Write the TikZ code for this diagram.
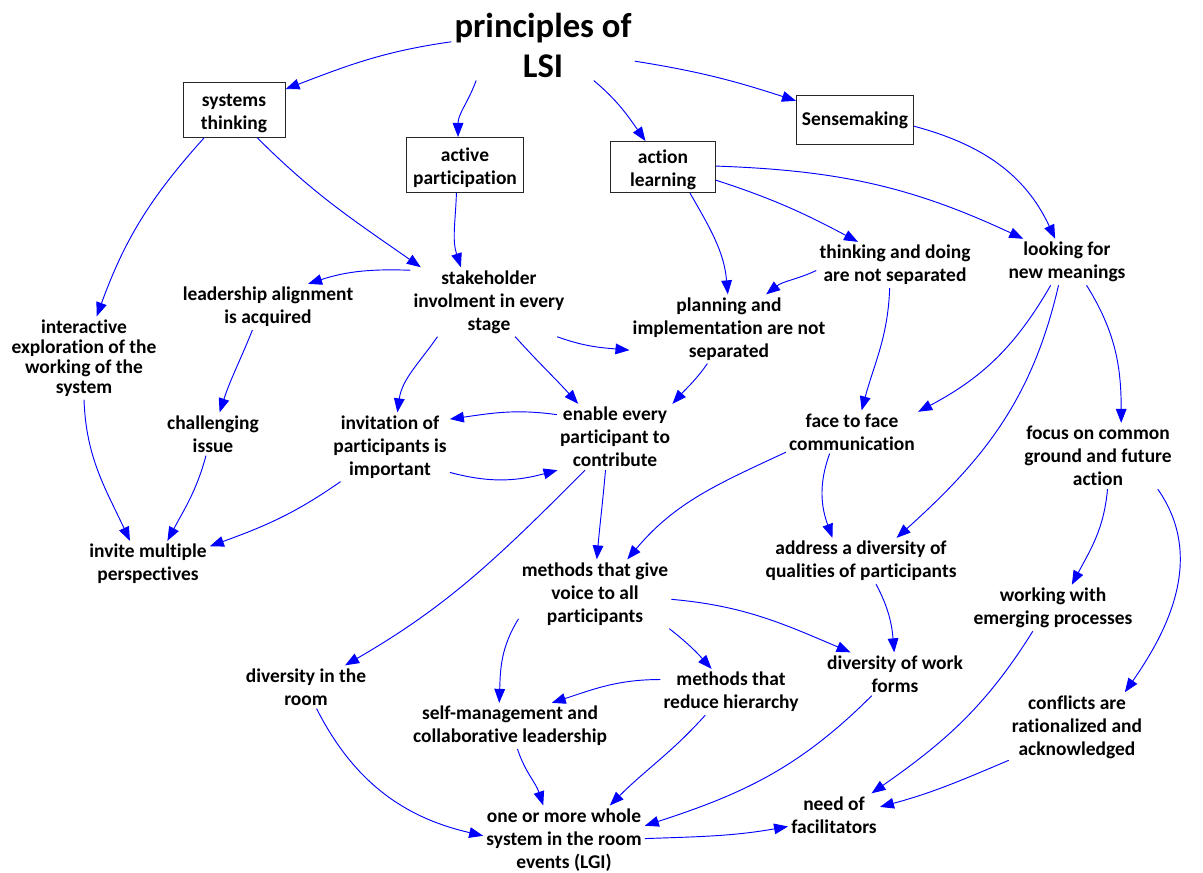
\documentclass[tikz,border=0pt]{standalone}
\usepackage{fontspec}
\setmainfont{Carlito}[Ligatures={NoCommon}, Contextuals={NoAlternate}]
\usetikzlibrary{arrows.meta}
\newcommand\lblfont{\fontsize{14.6}{17.25}\selectfont\bfseries}
\newcommand\lbltightfont{\fontsize{14.6}{15}\selectfont\bfseries}
\newcommand\titlefont{\fontsize{26}{30}\selectfont\bfseries}
\newcommand\boxstrut{\rule{0pt}{15pt}}
\begin{document}
\begin{tikzpicture}[x=0.75pt,y=0.75pt]
\tikzset{
  lbl/.style={align=center, font=\lblfont, inner sep=2.25pt},
  tightlbl/.style={align=center, font=\lbltightfont, inner sep=2.25pt},
  boxnode/.style={align=center, font=\lblfont, draw=black!85, line width=0.75pt, inner sep=0pt},
  arr/.style={draw=blue, line width=0.7pt, -{Triangle[length=10.5pt,width=8pt]}},
}
\path[use as bounding box] (0,0) rectangle (1203,-873);

% nodes
\node[align=center, font=\titlefont, inner sep=2.25pt] (title) at (543,-45) {principles of\\LSI};
\node[boxnode, minimum width=76.5pt, minimum height=41.25pt] (sys) at (234,-110) {\boxstrut systems\\thinking};
\node[boxnode, minimum width=87.75pt, minimum height=41.25pt] (act) at (465,-165) {\boxstrut active\\participation};
\node[boxnode, minimum width=78.75pt, minimum height=38.25pt] (actl) at (663,-167) {\boxstrut action\\learning};
\node[boxnode, minimum width=87.75pt, minimum height=36.75pt] (sense) at (855,-120) {Sensemaking};

\node[lbl] (stake) at (489,-302) {stakeholder\\involment in every\\stage};
\node[lbl] (lead) at (268,-307) {leadership alignment\\is acquired};
\node[tightlbl] (inter) at (84,-358) {interactive\\exploration of the\\working of the\\system};
\node[lbl] (chal) at (213,-434) {challenging\\issue};
\node[lbl] (invit) at (390,-447) {invitation of\\participants is\\important};
\node[lbl] (enable) at (615,-437) {enable every\\participant to\\contribute};
\node[lbl] (plan) at (729,-329) {planning and\\implementation are not\\separated};
\node[lbl] (think) at (895,-265) {thinking and doing\\are not separated};
\node[lbl] (look) at (1067,-262) {looking for\\new meanings};
\node[lbl] (face) at (852,-432) {face to face\\communication};
\node[lbl] (focus) at (1098,-456) {focus on common\\ground and future\\action};
\node[lbl] (invite) at (148,-564) {invite multiple\\perspectives};
\node[lbl] (meth) at (595,-594) {methods that give\\voice to all\\participants};
\node[lbl] (addr) at (861,-561) {address a diversity of\\qualities of participants};
\node[lbl] (work) at (1053,-608) {working with\\emerging processes};
\node[lbl] (divroom) at (306,-687) {diversity in the\\room};
\node[lbl] (divwork) at (895,-674) {diversity of work\\forms};
\node[lbl] (reduce) at (731,-692) {methods that\\reduce hierarchy};
\node[lbl] (self) at (510,-726) {self-management and\\collaborative leadership};
\node[lbl] (confl) at (1077,-727) {conflicts are\\rationalized and\\acknowledged};
\node[lbl] (one) at (564,-840) {one or more whole\\system in the room\\events (LGI)};
\node[lbl] (need) at (834,-815) {need of\\facilitators};

% connectors
\draw[arr] (title.178) to[out=188,in=21] (sys.22);
\draw[arr] (title.208) to[out=250,in=90] (act.104);
\draw[arr] (title.325) to[out=-40,in=125] (actl.124);
\draw[arr] (title.350) to[out=-9,in=162] (sense.162);
\draw[arr] (sys.223) to[out=228,in=70] (inter.73);
\draw[arr] (sys.310) to[out=-45,in=145] (stake.153);
\draw[arr] (act.253) to[out=268,in=108] (stake.129);
\draw[arr] (stake.158) to[out=178,in=18] (lead.30);
\draw[arr] (lead.236) to[out=248,in=72] (chal.73);
\draw[arr] (chal.252) to[out=255,in=62] (invite.50);
\draw[arr] (inter.270) to[out=272,in=115] (invite.128);
\draw[arr] (invit.215) to[out=215,in=20] (invite.16);
\draw[arr] (stake.214) to[out=235,in=82] (invit.78);
\draw[arr] (stake.307) to[out=-48,in=132] (enable.138);
\draw[arr] (enable.159) to[out=172,in=8] (invit.25);
\draw[arr] (invit.337) to[out=-15,in=195] (enable.210);
\draw[arr] (stake.333) to[out=-20,in=175] (plan.192);
\draw[arr] (actl.316) to[out=-60,in=95] (plan.92);
\draw[arr] (think.184) to[out=205,in=38] (plan.43);
\draw[arr] (actl.346) to[out=-18,in=152] (think.148);
\draw[arr] (actl.1) to[out=-2,in=155] (look.152);
\draw[arr] (sense.354) to[out=-15,in=115] (look.117);
\draw[arr] (plan.238) to[out=235,in=48] (enable.30);
\draw[arr] (think.257) to[out=268,in=75] (face.66);
\draw[arr] (look.235) to[out=240,in=28] (face.17);
\draw[arr] (look.250) to[out=257,in=42] (addr.33);
\draw[arr] (look.310) to[out=-58,in=90] (focus.55);
\draw[arr] (enable.254) to[out=265,in=85] (meth.87);
\draw[arr] (enable.228) to[out=225,in=30] (divroom.29);
\draw[arr] (face.197) to[out=205,in=50] (meth.47);
\draw[arr] (face.224) to[out=250,in=110] (addr.141);
\draw[arr] (focus.286) to[out=265,in=62] (work.51);
\draw[arr] (focus.331) to[out=-55,in=55] (confl.36);
\draw[arr] (meth.356) to[out=-5,in=157] (divwork.154);
\draw[arr] (meth.335) to[out=-38,in=132] (reduce.130);
\draw[arr] (meth.198) to[out=238,in=88] (self.115);
\draw[arr] (addr.303) to[out=-62,in=95] (divwork.92);
\draw[arr] (reduce.170) to[out=180,in=18] (self.29);
\draw[arr] (self.288) to[out=-72,in=108] (one.121);
\draw[arr] (divroom.296) to[out=-63,in=167] (one.177);
\draw[arr] (reduce.222) to[out=228,in=45] (one.37);
\draw[arr] (divwork.223) to[out=225,in=18] (one.10);
\draw[arr] (one.1) to[out=2,in=190] (need.194);
\draw[arr] (work.229) to[out=238,in=35] (need.30);
\draw[arr] (confl.206) to[out=203,in=15] (need.10);
\end{tikzpicture}
\end{document}
